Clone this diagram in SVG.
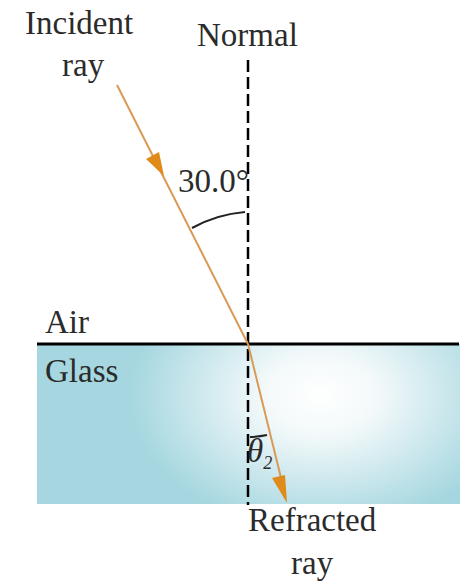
<svg xmlns="http://www.w3.org/2000/svg" width="463" height="581" viewBox="0 0 463 581">
<style>
text{font-family:"Liberation Serif","Times New Roman",serif;font-size:33px;fill:#2b2b2b}
.ray{stroke:#d99a55;stroke-width:2;fill:none}
.head{fill:#e08a1a}
.arc{stroke:#222;stroke-width:2;fill:none}
</style>
<defs>
<radialGradient id="g" cx="320" cy="395" r="190" gradientUnits="userSpaceOnUse" gradientTransform="translate(320 395) scale(1 0.7) translate(-320 -395)">
<stop offset="0" stop-color="#ffffff"/>
<stop offset="0.3" stop-color="#f3f9fa"/>
<stop offset="1" stop-color="#a6d7e0"/>
</radialGradient>
</defs>
<rect width="463" height="581" fill="#ffffff"/>
<g id="glass">
<rect x="37" y="344" width="423" height="160" fill="url(#g)"/>
<text x="45" y="382" font-size="30">Glass</text>
</g>
<g id="air">
<text x="45" y="333" font-size="30">Air</text>
</g>
<g id="surface">
<line x1="37" y1="344" x2="459" y2="344" stroke="#000" stroke-width="3"/>
</g>
<g id="normal">
<line x1="248" y1="60" x2="248" y2="505" stroke="#000" stroke-width="2.5" stroke-dasharray="12 5"/>
<text x="197" y="46">Normal</text>
</g>
<g id="connectors">
<line class="ray" x1="117" y1="85" x2="248" y2="344"/>
<polygon class="head" points="164,176 146,159 159,152"/>
<line class="ray" x1="248" y1="344" x2="284" y2="490"/>
<polygon class="head" points="287,503 272,478 285,475"/>
</g>
<g id="incident">
<text x="25" y="34">Incident</text>
<text x="62" y="76">ray</text>
</g>
<g id="angle1">
<path class="arc" d="M245,212 A132,132 0 0 0 192,228"/>
<text x="178" y="192" font-size="31">30.0°</text>
</g>
<g id="angle2">
<path class="arc" d="M250,437 A93,93 0 0 0 267,435"/>
<text x="247" y="462" font-style="italic" font-size="28">θ<tspan font-size="18" dy="7">2</tspan></text>
</g>
<g id="refracted">
<text x="248" y="531">Refracted</text>
<text x="291" y="574">ray</text>
</g>
</svg>
